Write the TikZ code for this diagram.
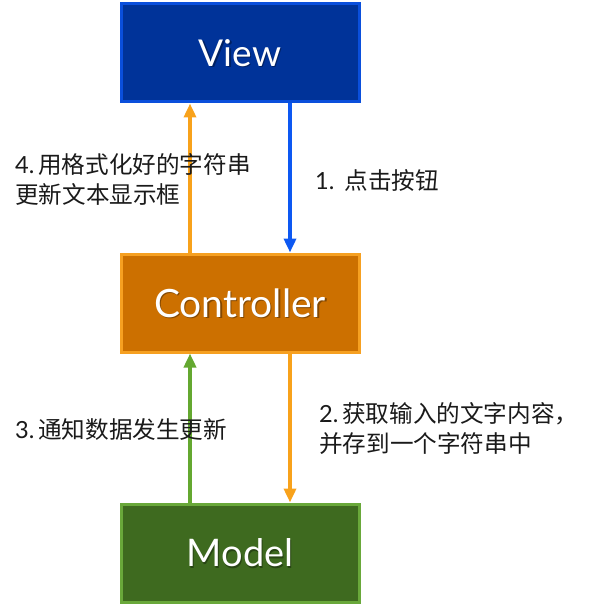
\documentclass[tikz,border=0pt]{standalone}
\usepackage{fontspec}
\setmainfont{Lato}
\newfontfamily\cjk{Noto Sans CJK SC}
\usetikzlibrary{arrows.meta}
\definecolor{viewfill}{HTML}{003399}
\definecolor{viewedge}{HTML}{0A4FDC}
\definecolor{ctrlfill}{HTML}{CC7000}
\definecolor{ctrledge}{HTML}{F6A021}
\definecolor{modelfill}{HTML}{3E6A1F}
\definecolor{modeledge}{HTML}{69A83A}
\definecolor{arrblue}{HTML}{0D58F2}
\definecolor{arrorange}{HTML}{F8A21B}
\definecolor{arrgreen}{HTML}{64A830}
\definecolor{labeltext}{HTML}{1A1A1A}
\tikzset{
  mvcbox/.style={rectangle, line width=3pt, minimum width=238pt, minimum height=98pt,
    inner sep=0pt, text=white, font=\fontsize{38}{38}\selectfont},
  flow/.style={line width=3.6pt, -{Triangle[length=14pt,width=12pt]}},
  lbl/.style={anchor=west, align=left, text=labeltext, inner sep=0pt,
    font=\fontsize{23.6}{30}\selectfont}
}
\begin{document}
\begin{tikzpicture}[x=1pt,y=-1pt]
\useasboundingbox (0,0) rectangle (598,604);
\node[mvcbox, fill=viewfill, draw=viewedge] (view) at (240,53) {};
\node[mvcbox, fill=ctrlfill, draw=ctrledge] (ctrl) at (240,303) {};
\node[mvcbox, fill=modelfill, draw=modeledge] (model) at (240,553) {};
\foreach \n/\t/\s in {view/View/37, ctrl/Controller/39, model/Model/38}{
  \node[text=black, opacity=0.35, font=\fontsize{\s}{\s}\selectfont] at ([xshift=1.2pt,yshift=-1.5pt]\n.center) {\t};
  \node[text=white, font=\fontsize{\s}{\s}\selectfont] (\n-t) at (\n.center) {\t};
}
\draw[flow, arrblue] ([xshift=50pt]view.south) -- ([xshift=50pt]ctrl.north);
\draw[flow, arrorange] ([xshift=-50pt]ctrl.north) -- ([xshift=-50pt]view.south);
\draw[flow, arrorange] ([xshift=50pt]ctrl.south) -- ([xshift=50pt]model.north);
\draw[flow, arrgreen] ([xshift=-50pt]model.north) -- ([xshift=-50pt]ctrl.south);
\node[lbl] (l4) at (15,179) {4.\,{\cjk 用格式化好的字符串}\\{\cjk 更新文本显示框}};
\node[lbl] (l1) at (315,180) {1.~\,{\cjk 点击按钮}};
\node[lbl] (l3) at (15,430) {3.\,{\cjk 通知数据发生更新}};
\node[lbl] (l2) at (319,429) {2.\,{\cjk 获取输入的文字内容，}\\{\cjk 并存到一个字符串中}};
\end{tikzpicture}
\end{document}
